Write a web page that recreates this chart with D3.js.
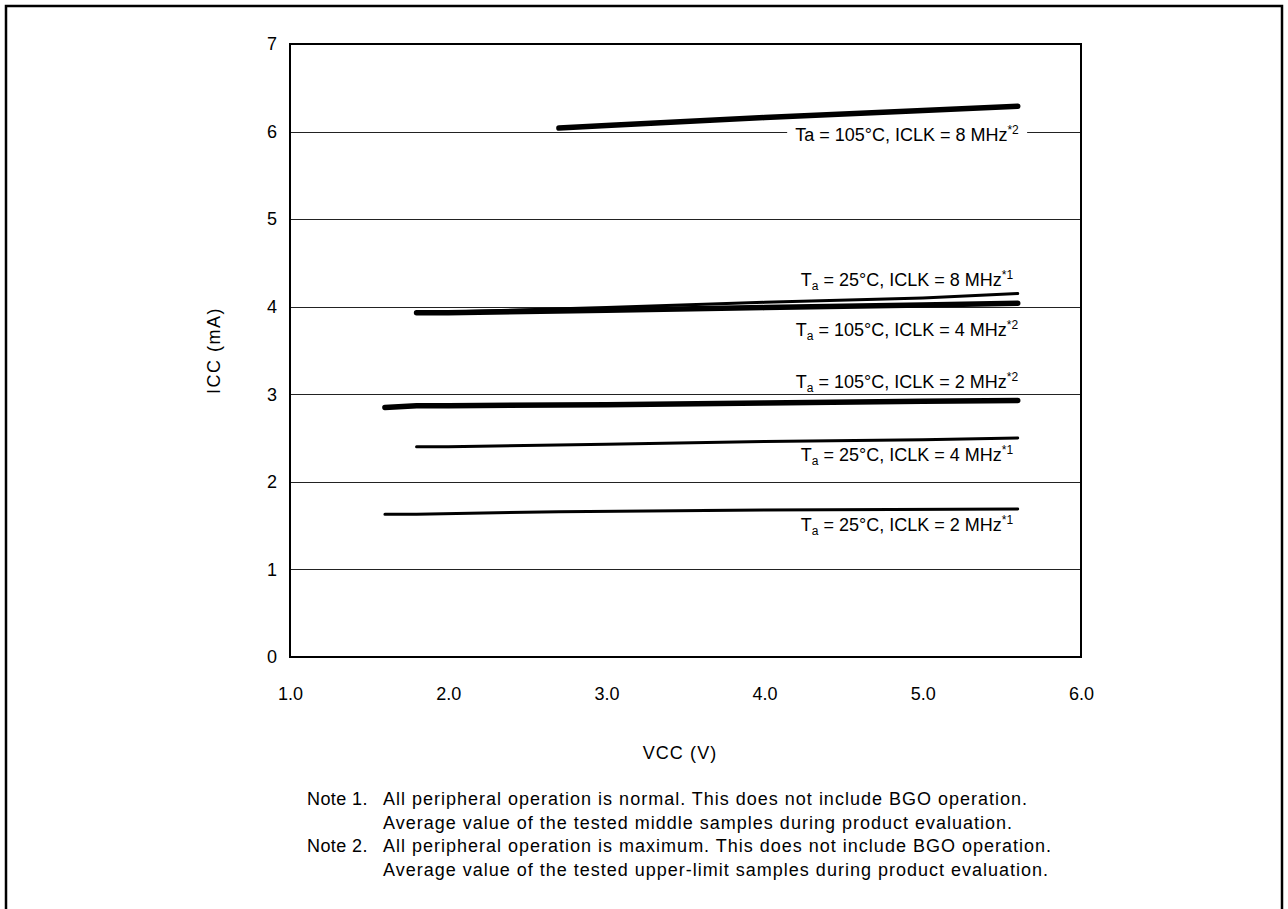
<!DOCTYPE html>
<html>
<head>
<meta charset="utf-8">
<script src="https://cdn.jsdelivr.net/npm/d3@7"></script>
<style>
  html, body { margin: 0; padding: 0; background: #fff; }
  svg { display: block; font-family: "Liberation Sans", Arial, sans-serif; }
</style>
</head>
<body>
<svg id="chart" width="1288" height="909"></svg>
<script>
// ---- data ----
const xTicks = [1.0, 2.0, 3.0, 4.0, 5.0, 6.0];
const yTicks = [0, 1, 2, 3, 4, 5, 6, 7];

const vcc_105_8 = [2.7, 3.0, 4.0, 5.0, 5.6];
const icc_105_8 = [6.04, 6.07, 6.16, 6.24, 6.29];

const vcc_25_8 = [1.8, 2.0, 3.0, 4.0, 5.0, 5.6];
const icc_25_8 = [3.93, 3.94, 3.99, 4.05, 4.10, 4.15];

const vcc_105_4 = [1.8, 2.0, 3.0, 4.0, 5.0, 5.6];
const icc_105_4 = [3.93, 3.93, 3.96, 3.99, 4.02, 4.04];

const vcc_105_2 = [1.6, 1.8, 2.0, 3.0, 4.0, 5.0, 5.6];
const icc_105_2 = [2.85, 2.87, 2.87, 2.88, 2.90, 2.92, 2.93];

const vcc_25_4 = [1.8, 2.0, 3.0, 4.0, 5.0, 5.6];
const icc_25_4 = [2.40, 2.40, 2.43, 2.46, 2.48, 2.50];

const vcc_25_2 = [1.6, 1.8, 2.7, 4.0, 5.6];
const icc_25_2 = [1.63, 1.63, 1.66, 1.68, 1.69];

// label text parts: [main prefix, subscript, rest, superscript]
const labelTexts = [
  ["Ta", "", " = 105°C, ICLK = 8 MHz", "*2"],
  ["T", "a", " = 25°C, ICLK = 8 MHz", "*1"],
  ["T", "a", " = 105°C, ICLK = 4 MHz", "*2"],
  ["T", "a", " = 105°C, ICLK = 2 MHz", "*2"],
  ["T", "a", " = 25°C, ICLK = 4 MHz", "*1"],
  ["T", "a", " = 25°C, ICLK = 2 MHz", "*1"]
];
// label anchor in data units (VCC, ICC at baseline)
const labelVcc = [4.9, 4.9, 4.9, 4.9, 4.9, 4.9];
const labelIcc = [5.89, 4.24, 3.67, 3.07, 2.24, 1.44];

const notes = [
  ["Note 1.", "All peripheral operation is normal. This does not include BGO operation."],
  ["", "Average value of the tested middle samples during product evaluation."],
  ["Note 2.", "All peripheral operation is maximum. This does not include BGO operation."],
  ["", "Average value of the tested upper-limit samples during product evaluation."]
];

// ---- layout ----
const svg = d3.select("#chart");
const pL = 290, pR = 1081, pT = 44, pB = 657;
const x = d3.scaleLinear().domain([1, 6]).range([pL, pR]);
const y = d3.scaleLinear().domain([0, 7]).range([pB, pT]);
const FS = 18;

// outer frame (open at bottom)
svg.append("rect")
  .attr("x", 6).attr("y", 6).attr("width", 1276).attr("height", 1000)
  .attr("fill", "none").attr("stroke", "#000").attr("stroke-width", 2.5);

// gridlines
svg.append("g").selectAll("line").data(yTicks.filter(d => d > 0 && d < 7)).join("line")
  .attr("x1", pL).attr("x2", pR)
  .attr("y1", d => Math.round(y(d)) + 0.5).attr("y2", d => Math.round(y(d)) + 0.5)
  .attr("stroke", "#222").attr("stroke-width", 1);

// y axis labels
const yAxis = d3.axisLeft(y).tickValues(yTicks).tickSize(0).tickPadding(13).tickFormat(d3.format("d"));
const gy = svg.append("g").attr("transform", `translate(${pL},0)`).call(yAxis);
gy.select(".domain").remove();
gy.selectAll("text").attr("font-size", FS).attr("font-family", "Liberation Sans, Arial, sans-serif").attr("fill", "#000");

// x axis labels
const xAxis = d3.axisBottom(x).tickValues(xTicks).tickSize(0).tickPadding(30).tickFormat(d3.format(".1f"));
const gx = svg.append("g").attr("transform", `translate(0,${pB})`).call(xAxis);
gx.select(".domain").remove();
gx.selectAll("text").attr("font-size", FS).attr("font-family", "Liberation Sans, Arial, sans-serif").attr("fill", "#000");

// plot frame
svg.append("rect")
  .attr("x", pL).attr("y", pT).attr("width", pR - pL).attr("height", pB - pT)
  .attr("fill", "none").attr("stroke", "#000").attr("stroke-width", 2);

// axis titles
svg.append("text").attr("x", 680).attr("y", 759).attr("text-anchor", "middle")
  .attr("font-size", FS).attr("letter-spacing", 1.1).text("VCC (V)");
svg.append("text").attr("transform", `translate(220,${(pT + pB) / 2}) rotate(-90)`)
  .attr("text-anchor", "middle").attr("font-size", FS).attr("letter-spacing", 1.5).text("ICC (mA)");

// series
const seriesDefs = [
  { xs: vcc_105_8, ys: icc_105_8, w: 5.5 },
  { xs: vcc_105_4, ys: icc_105_4, w: 5.5 },
  { xs: vcc_25_8, ys: icc_25_8, w: 3 },
  { xs: vcc_105_2, ys: icc_105_2, w: 5.5 },
  { xs: vcc_25_4, ys: icc_25_4, w: 3 },
  { xs: vcc_25_2, ys: icc_25_2, w: 3 }
];
const line = d3.line().x(d => x(d[0])).y(d => y(d[1]));
svg.append("g").selectAll("path").data(seriesDefs).join("path")
  .attr("d", s => line(s.xs.map((v, i) => [v, s.ys[i]])))
  .attr("fill", "none").attr("stroke", "#000")
  .attr("stroke-width", s => s.w)
  .attr("stroke-linecap", "round").attr("stroke-linejoin", "round");

// labels
const lg = svg.append("g");
labelTexts.forEach((parts, i) => {
  const g = lg.append("g");
  const t = g.append("text")
    .attr("x", x(labelVcc[i])).attr("y", y(labelIcc[i]))
    .attr("text-anchor", "middle").attr("font-size", FS);
  t.append("tspan").text(parts[0]);
  if (parts[1]) {
    t.append("tspan").attr("font-size", 12).attr("dy", 4).text(parts[1]);
    t.append("tspan").attr("dy", -4).text(parts[2]);
  } else {
    t.append("tspan").text(parts[2]);
  }
  t.append("tspan").attr("font-size", 12).attr("dy", -7).text(parts[3]);
  if (i === 0) {
    const bb = t.node().getBBox();
    g.insert("rect", "text")
      .attr("x", bb.x - 8).attr("y", bb.y).attr("width", bb.width + 16).attr("height", bb.height)
      .attr("fill", "#fff");
  }
});

// notes
const ng = svg.append("g");
notes.forEach((n, i) => {
  const yy = 805 + i * 23.5;
  if (n[0]) ng.append("text").attr("x", 307).attr("y", yy).attr("font-size", FS).attr("letter-spacing", 0.4).text(n[0]);
  ng.append("text").attr("x", 383).attr("y", yy).attr("font-size", FS).attr("letter-spacing", 1.0).text(n[1]);
});
</script>
</body>
</html>
